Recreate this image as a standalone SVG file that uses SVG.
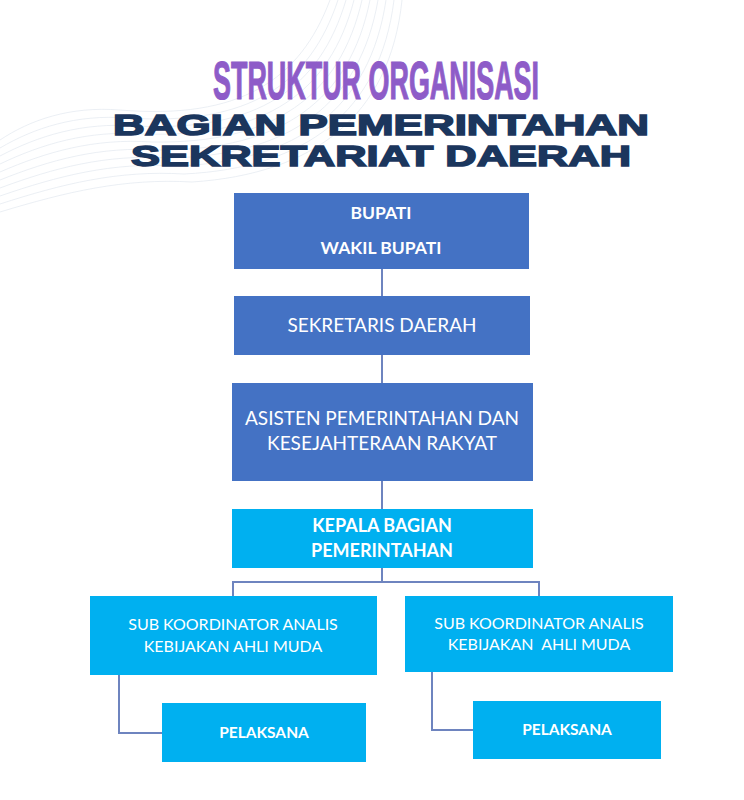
<svg xmlns="http://www.w3.org/2000/svg" width="744" height="800" viewBox="0 0 744 800">
<style>
.dk{fill:#4472C4}
.lt{fill:#00B0F0}
.t{font-family:Lato,"Open Sans","Liberation Sans",sans-serif;fill:#ffffff;text-anchor:middle}
.b{font-weight:bold}
.cn{fill:none;stroke:#6E84BF;stroke-width:2}
.w{fill:none;stroke:#dfe6ee;stroke-width:0.8;opacity:0.8}
.h{font-family:"Liberation Sans",Arial,sans-serif;font-weight:bold;text-anchor:middle}
</style>
<rect width="744" height="800" fill="#ffffff"/>
<g id="waves">
<path class="w" d="M330,0 C300,80 240,120 120,110 C70,106 30,120 0,140"/>
<path class="w" d="M338,0 C310,84 250,126 128,118 C76,114 34,128 0,148"/>
<path class="w" d="M346,0 C320,88 258,132 136,126 C82,122 38,136 0,156"/>
<path class="w" d="M354,0 C330,92 266,138 144,134 C88,130 42,144 0,164"/>
<path class="w" d="M362,0 C340,96 274,144 152,142 C94,138 46,152 0,172"/>
<path class="w" d="M370,0 C350,100 282,150 160,150 C100,146 50,160 0,180"/>
<path class="w" d="M378,0 C360,104 290,156 168,158 C106,154 54,168 0,188"/>
<path class="w" d="M386,0 C370,108 298,162 176,166 C112,162 58,176 0,196"/>
<path class="w" d="M394,0 C380,112 306,168 184,174 C118,170 62,184 0,204"/>
<path class="w" d="M402,0 C390,116 314,174 192,182 C124,178 66,192 0,212"/>
</g>
<g id="title">
<text class="h" x="376" y="99" font-size="54" fill="#8E5CC8" stroke="#8E5CC8" stroke-width="1.2" textLength="326" lengthAdjust="spacingAndGlyphs">STRUKTUR ORGANISASI</text>
<text class="h" x="381" y="135" font-size="30" fill="#1B365D" stroke="#1B365D" stroke-width="1.5" textLength="536" lengthAdjust="spacingAndGlyphs">BAGIAN PEMERINTAHAN</text>
<text class="h" x="381" y="166" font-size="30" fill="#1B365D" stroke="#1B365D" stroke-width="1.5" textLength="500" lengthAdjust="spacingAndGlyphs">SEKRETARIAT DAERAH</text>
</g>
<g id="connectors">
<path class="cn" d="M382,269 V296 M382,355 V383 M382,481 V509 M382,568 V582 M233,596 V582 H539 V596"/>
<path class="cn" d="M119,675 V733 H162"/>
<path class="cn" d="M432,672 V730 H473"/>
</g>
<g id="bupati">
<rect class="dk" x="234" y="193" width="295" height="76"/>
<text class="t b" x="381" y="219" font-size="17.5">BUPATI</text>
<text class="t b" x="381" y="254" font-size="17.5">WAKIL BUPATI</text>
</g>
<g id="sekda">
<rect class="dk" x="234" y="296" width="296" height="59"/>
<text class="t" x="382" y="332" font-size="19">SEKRETARIS DAERAH</text>
</g>
<g id="asisten">
<rect class="dk" x="232" y="383" width="301" height="98"/>
<text class="t" x="382" y="425" font-size="19">ASISTEN PEMERINTAHAN DAN</text>
<text class="t" x="382" y="450" font-size="19">KESEJAHTERAAN RAKYAT</text>
</g>
<g id="kabag">
<rect class="lt" x="232" y="509" width="301" height="59"/>
<text class="t b" x="382" y="532" font-size="18">KEPALA BAGIAN</text>
<text class="t b" x="382" y="557" font-size="18">PEMERINTAHAN</text>
</g>
<g id="sub1">
<rect class="lt" x="90" y="596" width="287" height="79"/>
<text class="t" x="233" y="630" font-size="16">SUB KOORDINATOR ANALIS</text>
<text class="t" x="233" y="652" font-size="16">KEBIJAKAN AHLI MUDA</text>
</g>
<g id="sub2">
<rect class="lt" x="405" y="596" width="268" height="76"/>
<text class="t" x="539" y="629" font-size="16">SUB KOORDINATOR ANALIS</text>
<text class="t" x="539" y="650" font-size="16" xml:space="preserve">KEBIJAKAN  AHLI MUDA</text>
</g>
<g id="pelaksana1">
<rect class="lt" x="162" y="703" width="204" height="59"/>
<text class="t b" x="264" y="738" font-size="15.5">PELAKSANA</text>
</g>
<g id="pelaksana2">
<rect class="lt" x="473" y="701" width="188" height="58"/>
<text class="t b" x="567" y="735" font-size="15.5">PELAKSANA</text>
</g>
</svg>
